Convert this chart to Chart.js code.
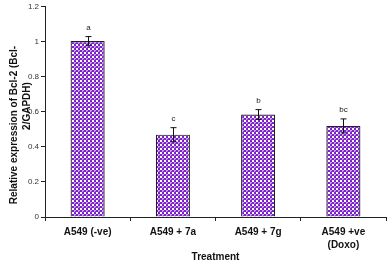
<!DOCTYPE html>
<html>
<head>
<meta charset="utf-8">
<script src="https://cdn.jsdelivr.net/npm/chart.js@4"></script>
<style>
  html, body { margin: 0; padding: 0; background: #fff; }
  #wrap { width: 387px; height: 265px; }
</style>
</head>
<body>
<div id="wrap"><canvas id="myChart" width="387" height="265"></canvas></div>
<script>
// Chart values
const categories = ['A549 (-ve)', 'A549 + 7a', 'A549 + 7g', ['A549 +ve', '(Doxo)']];
const expression = [1.005, 0.47, 0.585, 0.52];
const errors = [0.025, 0.04, 0.028, 0.04];
const letters = ['a', 'c', 'b', 'bc'];
const yTicks = [0, 0.2, 0.4, 0.6, 0.8, 1, 1.2];
const yTitleLines = ['Relative expression of Bcl-2 (Bcl-', '2/GAPDH)'];

const FONT = '"Liberation Sans", Arial, sans-serif';

// Purple fill with white dots, like the original bars
function makePattern() {
    const c = document.createElement('canvas');
    c.width = 4;
    c.height = 4;
    const g = c.getContext('2d');
    g.fillStyle = '#7d22c8';
    g.fillRect(0, 0, 4, 4);
    g.fillStyle = '#ffffff';
    g.fillRect(0, 0, 2, 2);
    g.fillStyle = '#c9a3ee';
    g.fillRect(2, 2, 2, 2);
    g.fillStyle = '#9446d8';
    g.fillRect(3, 3, 1, 1);
    return g.createPattern(c, 'repeat');
}

// Error bars and significance letters drawn through the y scale
const errorBarPlugin = {
    id: 'errorBars',
    afterDatasetsDraw(chart) {
        const ctx = chart.ctx;
        const y = chart.scales.y;
        const meta = chart.getDatasetMeta(0);
        ctx.save();
        ctx.strokeStyle = '#111';
        ctx.lineWidth = 1;
        meta.data.forEach((bar, i) => {
            const x = Math.round(bar.x) + 0.5;
            const top = y.getPixelForValue(expression[i] + errors[i]);
            const bottom = y.getPixelForValue(expression[i] - errors[i]);
            ctx.beginPath();
            ctx.moveTo(x, top);
            ctx.lineTo(x, bottom);
            ctx.moveTo(x - 3, top);
            ctx.lineTo(x + 3, top);
            ctx.moveTo(x - 3, bottom);
            ctx.lineTo(x + 3, bottom);
            ctx.stroke();

            ctx.fillStyle = '#222';
            ctx.font = '8px ' + FONT;
            ctx.textAlign = 'center';
            ctx.textBaseline = 'middle';
            ctx.fillText(letters[i], x, top - 9);
        });
        ctx.restore();
    }
};

// Y axis title, two lines placed like the original (second line sits higher)
const yTitlePlugin = {
    id: 'yTitle',
    afterDraw(chart) {
        const ctx = chart.ctx;
        const spots = [[14, 125], [27, 106]];
        ctx.save();
        ctx.fillStyle = '#111';
        ctx.font = 'bold 10px ' + FONT;
        ctx.textAlign = 'center';
        ctx.textBaseline = 'middle';
        yTitleLines.forEach((line, i) => {
            ctx.save();
            ctx.translate(spots[i][0], spots[i][1]);
            ctx.rotate(-Math.PI / 2);
            ctx.fillText(line, 0, 0);
            ctx.restore();
        });
        ctx.restore();
    }
};

const ctx = document.getElementById('myChart').getContext('2d');
const myChart = new Chart(ctx, {
    type: 'bar',
    data: {
        labels: categories,
        datasets: [{
            data: expression,
            backgroundColor: makePattern(),
            borderColor: '#222',
            borderWidth: 1.2,
            categoryPercentage: 1,
            barPercentage: 0.4
        }]
    },
    options: {
        responsive: false,
        animation: false,
        layout: { padding: { top: 0, right: 1, left: 0, bottom: 0 } },
        plugins: {
            legend: { display: false },
            tooltip: { enabled: false }
        },
        scales: {
            x: {
                offset: true,
                afterFit(axis) { axis.height = 48; },
                grid: {
                    offset: true,
                    drawOnChartArea: false,
                    drawTicks: true,
                    tickLength: 4,
                    color: '#222'
                },
                border: { color: '#222', width: 1 },
                ticks: {
                    color: '#111',
                    padding: 4,
                    maxRotation: 0,
                    font: { family: FONT, size: 10, weight: 'bold', lineHeight: 1.35 }
                },
                title: {
                    display: true,
                    text: 'Treatment',
                    color: '#111',
                    padding: { top: 0, bottom: 1.5 },
                    font: { family: FONT, size: 10, weight: 'bold', lineHeight: 1.3 }
                }
            },
            y: {
                min: 0,
                max: 1.2,
                afterFit(axis) { axis.width = 45; },
                afterBuildTicks(axis) {
                    axis.ticks = yTicks.map(v => ({ value: v }));
                },
                grid: {
                    drawOnChartArea: false,
                    drawTicks: true,
                    tickLength: 4,
                    color: '#222'
                },
                border: { color: '#222', width: 1 },
                ticks: {
                    color: '#333',
                    padding: 2,
                    font: { family: FONT, size: 8 },
                    callback: v => String(Math.round(v * 10) / 10)
                }
            }
        }
    },
    plugins: [errorBarPlugin, yTitlePlugin]
});
</script>
</body>
</html>
